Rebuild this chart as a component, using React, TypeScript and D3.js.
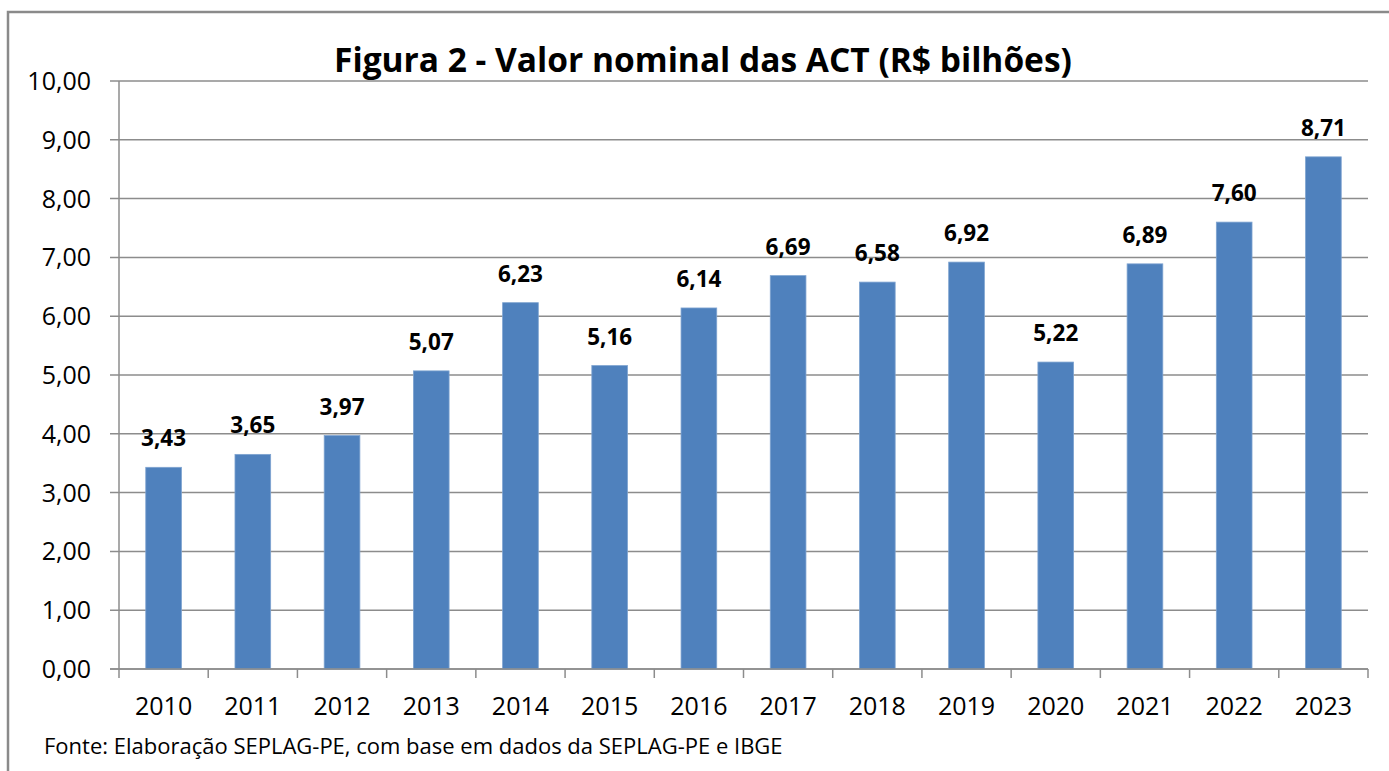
import React, { useEffect, useRef } from "react";
import * as d3 from "d3";

const years = ["2010", "2011", "2012", "2013", "2014", "2015", "2016", "2017", "2018", "2019", "2020", "2021", "2022", "2023"];
const values = [3.43, 3.65, 3.97, 5.07, 6.23, 5.16, 6.14, 6.69, 6.58, 6.92, 5.22, 6.89, 7.6, 8.71];
const yTicks = [0, 1, 2, 3, 4, 5, 6, 7, 8, 9, 10];
const title = "Figura 2 - Valor nominal das ACT (R$ bilhões)";
const source = "Fonte: Elaboração SEPLAG-PE, com base em dados da SEPLAG-PE e IBGE";

const W = 1389;
const H = 771;
const FONT = "'Open Sans', Lato, sans-serif";

const fmt = (v: number) => v.toFixed(2).replace(".", ",");

export default function App() {
  const ref = useRef<SVGSVGElement>(null);

  useEffect(() => {
    const svg = d3.select(ref.current);
    svg.selectAll("*").remove();

    const margin = { top: 81, left: 119, right: 21, bottom: 102 };
    const plotW = W - margin.left - margin.right;
    const plotH = H - margin.top - margin.bottom;

    // outer chart frame (runs off the right/bottom edge)
    svg
      .append("rect")
      .attr("x", 8)
      .attr("y", 12)
      .attr("width", W + 20)
      .attr("height", H + 20)
      .attr("fill", "white")
      .attr("stroke", "#8a8a8a")
      .attr("stroke-width", 2.5);

    svg
      .append("text")
      .attr("x", 703)
      .attr("y", 72)
      .attr("text-anchor", "middle")
      .attr("font-family", FONT)
      .attr("font-weight", "bold")
      .attr("font-size", 33.5)
      .attr("fill", "#000")
      .text(title);

    const g = svg.append("g").attr("transform", "translate(" + margin.left + "," + margin.top + ")");

    const x = d3.scaleBand().domain(years).range([0, plotW]).paddingInner(0.6).paddingOuter(0.3);
    const step = x.step();
    const y = d3.scaleLinear().domain([0, 10]).range([plotH, 0]);

    // gridlines + y ticks
    g.selectAll(".grid")
      .data(yTicks)
      .enter()
      .append("line")
      .attr("x1", -9)
      .attr("x2", plotW)
      .attr("y1", (d: number) => y(d))
      .attr("y2", (d: number) => y(d))
      .attr("stroke", "#8c8c8c")
      .attr("stroke-width", 1.5);

    g.selectAll(".ylab")
      .data(yTicks)
      .enter()
      .append("text")
      .attr("x", -28)
      .attr("y", (d: number) => y(d))
      .attr("dy", "0.36em")
      .attr("text-anchor", "end")
      .attr("font-family", FONT)
      .attr("font-size", 25)
      .attr("fill", "#000")
      .text((d: number) => fmt(d));

    // bars
    g.selectAll(".bar")
      .data(values)
      .enter()
      .append("rect")
      .attr("x", (d: number, i: number) => x(years[i]) as number)
      .attr("width", x.bandwidth())
      .attr("y", (d: number) => y(d))
      .attr("height", (d: number) => plotH - y(d))
      .attr("fill", "#4f81bd")
      .attr("stroke", "#7ea3d0")
      .attr("stroke-width", 0.8);

    g.selectAll(".vlab")
      .data(values)
      .enter()
      .append("text")
      .attr("x", (d: number, i: number) => (x(years[i]) as number) + x.bandwidth() / 2)
      .attr("y", (d: number) => y(d) - 21)
      .attr("text-anchor", "middle")
      .attr("font-family", FONT)
      .attr("font-weight", "bold")
      .attr("font-size", 22.5)
      .attr("fill", "#000")
      .text((d: number) => fmt(d));

    // axes
    g.append("line")
      .attr("x1", 0)
      .attr("x2", 0)
      .attr("y1", 0)
      .attr("y2", plotH + 9)
      .attr("stroke", "#8c8c8c")
      .attr("stroke-width", 1.5);
    g.append("line")
      .attr("x1", -9)
      .attr("x2", plotW)
      .attr("y1", plotH)
      .attr("y2", plotH)
      .attr("stroke", "#8c8c8c")
      .attr("stroke-width", 1.5);
    g.selectAll(".xtick")
      .data(d3.range(1, years.length + 1))
      .enter()
      .append("line")
      .attr("x1", (d: number) => d * step)
      .attr("x2", (d: number) => d * step)
      .attr("y1", plotH)
      .attr("y2", plotH + 9)
      .attr("stroke", "#8c8c8c")
      .attr("stroke-width", 1.5);

    g.selectAll(".xlab")
      .data(years)
      .enter()
      .append("text")
      .attr("x", (d: string) => (x(d) as number) + x.bandwidth() / 2)
      .attr("y", plotH + 46)
      .attr("text-anchor", "middle")
      .attr("font-family", FONT)
      .attr("font-size", 25)
      .attr("fill", "#000")
      .text((d: string) => d);

    svg
      .append("text")
      .attr("x", 44)
      .attr("y", 754)
      .attr("font-family", FONT)
      .attr("font-size", 22)
      .attr("fill", "#000")
      .text(source);
  }, []);

  return (
    <svg
      ref={ref}
      width={W}
      height={H}
      style={{ position: "absolute", left: 0, top: 0, display: "block", background: "white" }}
    />
  );
}
